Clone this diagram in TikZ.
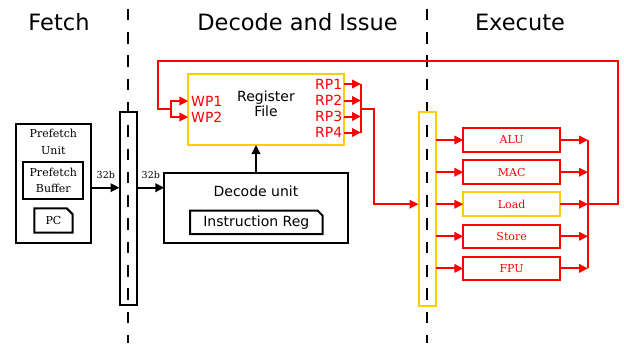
\documentclass[tikz,border=0pt]{standalone}
\usepackage{fontspec}
\setmainfont{DejaVu Serif}
\setsansfont{DejaVu Sans}
\usetikzlibrary{arrows.meta}
\definecolor{gold}{RGB}{255,204,0}
\definecolor{sigred}{RGB}{255,0,0}

\tikzset{
  lw/.style={line width=2pt},
  blk/.style={draw=black, lw, inner sep=0pt, outer sep=0pt},
  ghost/.style={draw=none, inner sep=0pt, outer sep=0pt},
  arr/.style={lw, -{Triangle[length=9pt,width=8.5pt]}},
  rarr/.style={arr, draw=sigred, color=sigred},
  rline/.style={lw, draw=sigred},
  stagetitle/.style={font=\sffamily\fontsize{22.5}{27}\selectfont, anchor=base, inner sep=0pt},
  sanslbl/.style={font=\sffamily\fontsize{14}{14}\selectfont, inner sep=0pt},
  serlbl/.style={font=\fontsize{11}{16.3}\selectfont, align=center, inner sep=0pt},
  buslbl/.style={font=\fontsize{9.5}{10}\selectfont, inner sep=0pt, anchor=base},
  port/.style={sanslbl, text=sigred},
  unit/.style={draw=sigred, lw, inner sep=0pt, outer sep=0pt, minimum width=96.7pt,
               minimum height=23.5pt, text=sigred, font=\fontsize{11}{11}\selectfont},
  stagesep/.style={lw, dash pattern=on 11.5pt off 11.8pt},
}

\begin{document}
\begin{tikzpicture}[x=1pt, y=-1pt]
\useasboundingbox (0,0) rectangle (624,343);

% stage titles
\node[stagetitle] (tfetch) at (59,30) {Fetch};
\node[stagetitle] (tdec) at (297.5,30) {Decode and Issue};
\node[stagetitle] (texe) at (520,30) {Execute};

% stage separators
\coordinate (sepAtop) at (128,8.7);
\coordinate (sepAbot) at (128,343);
\coordinate (sepBtop) at (427,8.7);
\coordinate (sepBbot) at (427,343);
\draw[stagesep] (sepAtop) -- (sepAbot);
\draw[stagesep] (sepBtop) -- (sepBbot);

% pipeline registers
\node[blk, minimum width=17pt, minimum height=193pt] (preg1) at (128,208.7) {};
\node[blk, draw=gold, minimum width=17pt, minimum height=194pt] (preg2) at (427,208.7) {};

% fetch stage
\node[blk, minimum width=75.3pt, minimum height=119.3pt] (pfu) at (53.35,183.65) {};
\node[serlbl, anchor=base] (pfutxt) at (53.35,154) {Prefetch\\Unit};
\node[blk, minimum width=60pt, minimum height=37.3pt, serlbl] (pfb) at (53.3,180.35) {Prefetch\\Buffer};
\node[ghost, minimum width=38.4pt, minimum height=24.4pt, serlbl] (pc) at (53.5,220.5) {PC};
\draw[lw, line join=miter] (pc.south west) -- (pc.north west) -- ([xshift=-6pt]pc.north east)
  -- ([yshift=-6pt]pc.north east) -- (pc.south east) -- cycle;

\coordinate (busy) at (0,187.7);
\draw[arr] (pfu.east |- busy) -- (preg1.west |- busy);
\node[buslbl] (bw1) at (105.8,178.3) {32b};

% decode stage
\node[blk, minimum width=183.4pt, minimum height=70pt] (dec) at (256,207.7) {};
\node[sanslbl, anchor=base] (dectxt) at (256,196) {Decode unit};
\node[ghost, minimum width=132.7pt, minimum height=23.3pt, sanslbl] (ir) at (256.35,222.35) {Instruction Reg};
\draw[lw, line join=miter] (ir.south west) -- (ir.north west) -- ([xshift=-5pt]ir.north east)
  -- ([yshift=-5pt]ir.north east) -- (ir.south east) -- cycle;

\draw[arr] (preg1.east |- busy) -- (dec.west |- busy);
\node[buslbl] (bw2) at (150.8,178.3) {32b};

% register file
\node[blk, draw=gold, minimum width=155.7pt, minimum height=71pt] (rf) at (266.15,109.5) {};
\node[sanslbl, align=center, font=\sffamily\fontsize{14}{13.5}\selectfont] (rftxt) at (266,104) {Register\\File};
\draw[arr] (dec.north) -- (dec.north |- rf.south);

% write ports
\node[port, anchor=west] (wp1) at (191,101) {WP1};
\node[port, anchor=west] (wp2) at (191,117) {WP2};
% read ports
\node[port, anchor=east] (rp1) at (342.5,84) {RP1};
\node[port, anchor=east] (rp2) at (342.5,100.5) {RP2};
\node[port, anchor=east] (rp3) at (342.5,116.5) {RP3};
\node[port, anchor=east] (rp4) at (342.5,132.5) {RP4};

\coordinate (rbusx) at (361,0);
\foreach \p in {rp1,rp2,rp3,rp4}
  \draw[rarr] (rf.east |- \p) -- (rbusx |- \p);
\draw[rline] (rbusx |- rp1) -- (rbusx |- rp4);
\coordinate (rbusout) at (361,109.3);
\coordinate (rdown) at (374,109.3);
\coordinate (issuey) at (0,204.2);
\draw[rarr, line join=miter] (rbusout) -- (rdown) |- (preg2.west |- issuey);

% execute units
\node[unit] (alu) at (511.65,140) {ALU};
\node[unit] (mac) at (511.65,172.2) {MAC};
\node[unit, draw=gold] (ld) at (511.65,204.2) {Load};
\node[unit] (st) at (511.65,236.3) {Store};
\node[unit] (fpu) at (511.65,268.4) {FPU};

\coordinate (wbx) at (588,0);
\foreach \u in {alu,mac,ld,st,fpu} {
  \draw[rarr] (preg2.east |- \u) -- (\u.west);
  \draw[rarr] (\u.east) -- (wbx |- \u);
}
\draw[rline] (wbx |- alu) -- (wbx |- fpu);

% write-back loop into the register file
\coordinate (wbsrc) at (588,204.2);
\coordinate (loopR) at (617.7,61);
\coordinate (loopL) at (158.3,61);
\coordinate (loopD) at (158.3,109.3);
\coordinate (wsplit) at (171,109.3);
\draw[rline, line join=miter] (wbsrc) -| (loopR) -- (loopL) -- (loopD) -- (wsplit);
\draw[rarr, line join=miter] (wsplit) |- (rf.west |- wp1);
\draw[rarr, line join=miter] (wsplit) |- (rf.west |- wp2);
\end{tikzpicture}
\end{document}
